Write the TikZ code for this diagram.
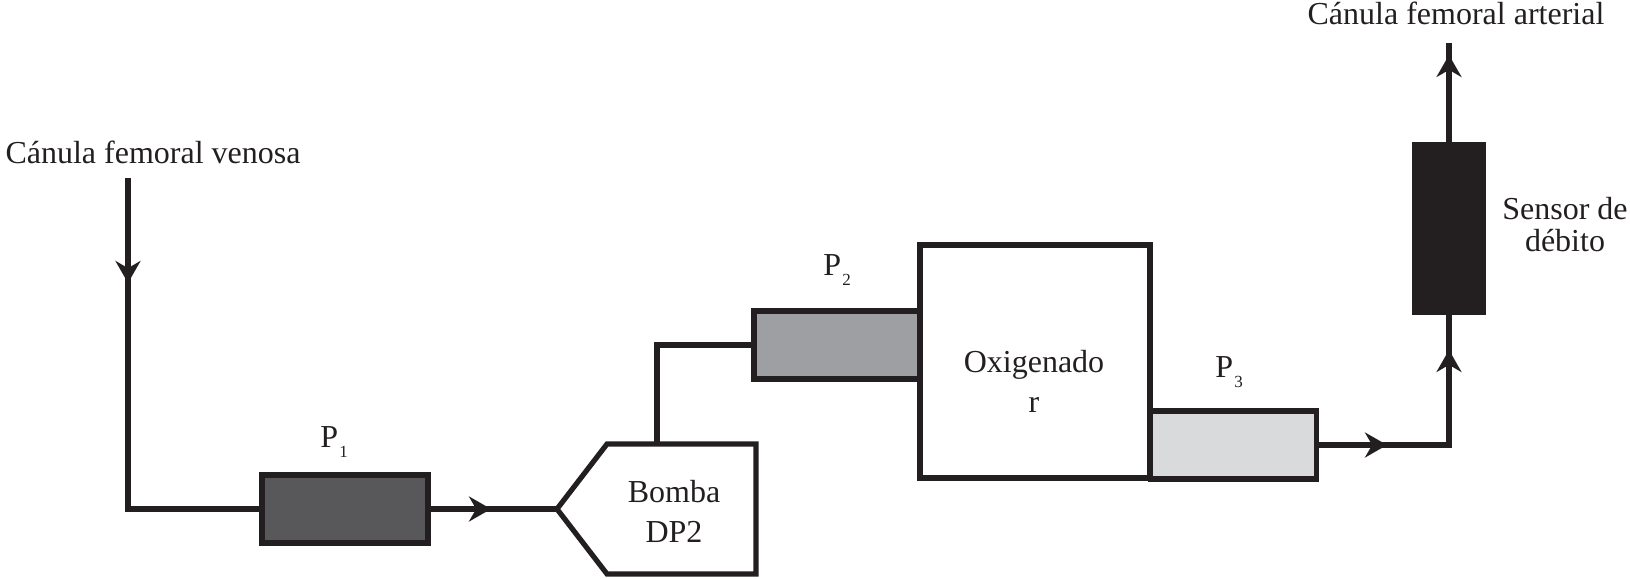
\documentclass[tikz,border=0pt]{standalone}
\usepackage{fontspec}
\setmainfont{Liberation Serif}
\usetikzlibrary{arrows.meta}
\definecolor{ink}{RGB}{35,31,32}
\definecolor{graydark}{RGB}{88,88,90}
\definecolor{graymid}{RGB}{157,159,162}
\definecolor{graylight}{RGB}{217,218,219}
\newcommand{\psub}[1]{P\kern0.6pt\raisebox{-5pt}{\fontsize{8.5}{8.5}\selectfont #1}}

\begin{document}
\begin{tikzpicture}[x=0.5pt, y=-0.5pt, >={Stealth[length=11pt, width=12.5pt]},
  pipe/.style={draw=ink, line width=2.6pt},
  seg/.style={draw=ink, line width=2.6pt, minimum width=83pt, minimum height=34pt, inner sep=0pt},
  lbl/.style={font=\fontsize{16}{20}\selectfont, inner sep=0pt, text=ink}]
  \useasboundingbox (0,0) rectangle (1630,579);
  % pressure segments and oxygenator
  \node[seg, fill=graydark] (p1) at (345,509) {};
  \node[seg, minimum width=115pt, minimum height=116.5pt] (oxy) at (1035,361.5) {};
  \node[seg, fill=graymid] (p2) at (837,345) {};
  \node[seg, fill=graylight] (p3) at (1233.5,445) {};
  \node[fill=ink, minimum width=37pt, minimum height=86.5pt, inner sep=0pt] (sensor) at (1449,228.5) {};
  % pump
  \coordinate (pumptip) at (557,509);
  \coordinate (pumptop) at (657,444);
  \draw[pipe, line join=miter] (pumptip) -- (607,444) -- (756,444) -- (756,574) -- (607,574) -- cycle;
  % labels
  \node[lbl, anchor=base west] (p1lbl) at (320,447) {\psub{1}};
  \node[lbl, anchor=base west] (p2lbl) at (823,275) {\psub{2}};
  \node[lbl, anchor=base west] (p3lbl) at (1215,377) {\psub{3}};
  \node[lbl, anchor=base] (venosa) at (153,163) {Cánula femoral venosa};
  \node[lbl, anchor=base] (arterial) at (1456,24) {Cánula femoral arterial};
  \node[lbl, align=center] (bomba) at (674,511) {Bomba\\DP2};
  \node[lbl, align=center] (oxylbl) at (1034,381) {Oxigenado\\r};
  \node[lbl, align=center, font=\fontsize{16}{16}\selectfont] (sensorlbl) at (1565,225) {Sensor de\\débito};
  % venous line
  \coordinate (vtop) at (128,178);
  \coordinate (varr) at (128,283);
  \draw[pipe] (vtop) |- (p1.west);
  \draw[pipe, ->] (vtop) -- (varr);
  \coordinate (a1) at (491,509);
  \draw[pipe] (p1.east) -- (pumptip);
  \draw[pipe, ->] (p1.east) -- (a1);
  \draw[pipe] (pumptop) |- (p2.west);
  % arterial line
  \coordinate (a3) at (1387,445);
  \coordinate (acorner) at (1449,445);
  \coordinate (a4) at (1449,350);
  \coordinate (a5) at (1449,55);
  \coordinate (atop) at (1449,43);
  \draw[pipe] (p3.east) -| (sensor.south);
  \draw[pipe, ->] (p3.east) -- (a3);
  \draw[pipe, ->] (acorner) -- (a4);
  \draw[pipe] (sensor.north) -- (atop);
  \draw[pipe, ->] (sensor.north) -- (a5);
\end{tikzpicture}
\end{document}
